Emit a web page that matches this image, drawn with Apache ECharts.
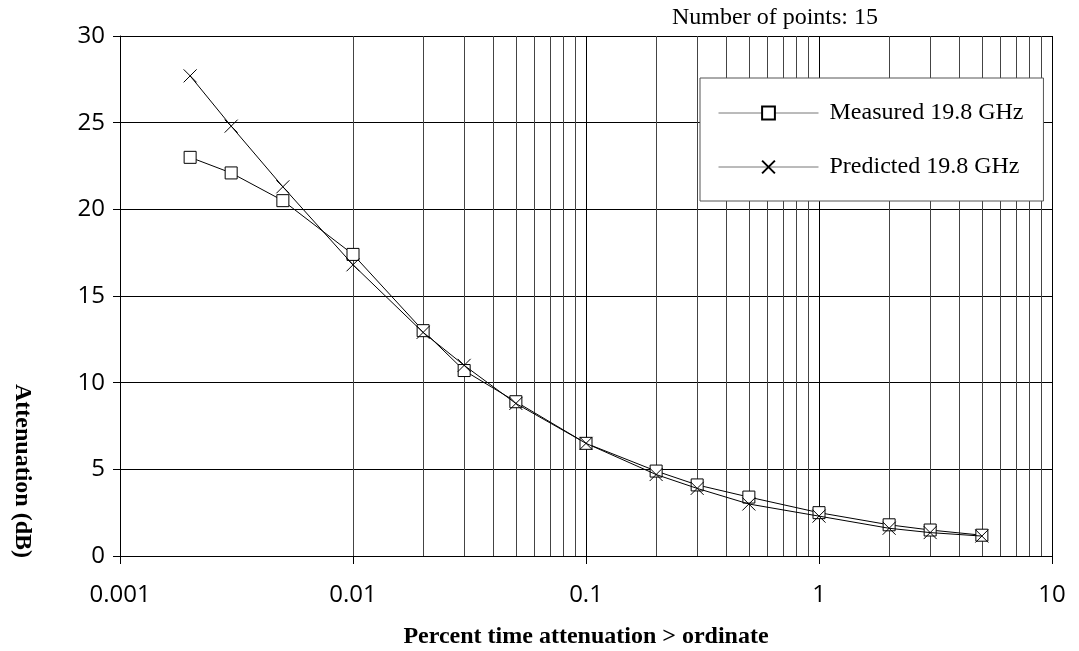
<!DOCTYPE html>
<html>
<head>
<meta charset="utf-8">
<script src="https://cdn.jsdelivr.net/npm/echarts@6/dist/echarts.min.js"></script>
<style>
  html, body { margin: 0; padding: 0; background: #fff; }
  #chart { width: 1079px; height: 651px; }
</style>
</head>
<body>
<div id="chart"></div>
<script>
// percent of time (x) and attenuation in dB (y)
const percentTime = [0.002, 0.003, 0.005, 0.01, 0.02, 0.03, 0.05, 0.1, 0.2, 0.3, 0.5, 1, 2, 3, 5];
const measured  = [23.0, 22.1, 20.5, 17.4, 13.0, 10.7, 8.9, 6.5, 4.9, 4.1, 3.4, 2.5, 1.8, 1.5, 1.2];
const predicted = [27.7, 24.8, 21.3, 16.8, 12.9, 11.0, 8.8, 6.5, 4.7, 3.9, 3.0, 2.3, 1.6, 1.35, 1.15];
const xTickLabels = ['0.001', '0.01', '0.1', '1', '10'];
const decades = [0.001, 0.01, 0.1, 1];

// minor log gridlines 2..9 in every decade
const minorLines = [];
decades.forEach(d => {
  for (let k = 2; k <= 9; k++) minorLines.push({ xAxis: +(d * k).toPrecision(3) });
});

const pairs = ys => percentTime.map((x, i) => [x, ys[i]]);

const chart = echarts.init(document.getElementById('chart'));

const option = {
  animation: false,
  title: {
    text: 'Number of points: 15',
    left: 672,
    top: 6,
    padding: 0,
    textStyle: { fontFamily: 'Liberation Serif', fontWeight: 'normal', fontSize: 24, color: '#000' }
  },
  grid: { left: 120, right: 27, top: 36, bottom: 95 },
  legend: {
    orient: 'vertical',
    left: 700,
    top: 78,
    padding: [23, 20, 22, 18],
    itemGap: 30,
    itemWidth: 100,
    itemHeight: 16,
    backgroundColor: '#fff',
    borderColor: '#555',
    borderWidth: 1,
    textStyle: { fontFamily: 'Liberation Serif', fontSize: 24, color: '#000', lineHeight: 24, padding: [0, 0, 0, 6] },
    lineStyle: { color: '#777', width: 1 },
    data: ['Measured 19.8 GHz', 'Predicted 19.8 GHz']
  },
  xAxis: {
    type: 'log',
    logBase: 10,
    min: 0.001,
    max: 10,
    axisLine: { lineStyle: { color: '#000', width: 1 } },
    axisTick: { show: true, length: 8, lineStyle: { color: '#000' } },
    axisLabel: {
      margin: 27,
      fontFamily: 'Open Sans',
      fontSize: 24,
      color: '#000',
      formatter: v => xTickLabels[Math.round(Math.log10(v)) + 3]
    },
    splitLine: { show: true, lineStyle: { color: '#000', width: 1 } }
  },
  yAxis: {
    type: 'value',
    min: 0,
    max: 30,
    interval: 5,
    axisLine: { show: true, lineStyle: { color: '#000', width: 1 } },
    axisTick: { show: true, length: 7, lineStyle: { color: '#000' } },
    axisLabel: { margin: 15, fontFamily: 'Open Sans', fontSize: 24, color: '#000' },
    splitLine: { show: true, lineStyle: { color: '#000', width: 1 } }
  },
  graphic: [
    {
      type: 'text',
      x: 22,
      y: 471,
      rotation: -Math.PI / 2,
      style: {
        text: 'Attenuation (dB)',
        font: 'bold 24px "Liberation Serif"',
        fill: '#000',
        align: 'center',
        verticalAlign: 'middle'
      }
    },
    {
      type: 'text',
      x: 586,
      y: 637,
      style: {
        text: 'Percent time attenuation > ordinate',
        font: 'bold 24px "Liberation Serif"',
        fill: '#000',
        align: 'center',
        verticalAlign: 'middle'
      }
    }
  ],
  series: [
    {
      name: 'Measured 19.8 GHz',
      type: 'line',
      data: pairs(measured),
      symbol: 'rect',
      symbolSize: 12,
      z: 3,
      lineStyle: { color: '#000', width: 1 },
      itemStyle: { color: '#fff', borderColor: '#000', borderWidth: 1 },
      markLine: {
        silent: true,
        symbol: 'none',
        label: { show: false },
        lineStyle: { color: '#444', width: 1, type: 'solid' },
        z: 1,
        data: minorLines
      }
    },
    {
      name: 'Predicted 19.8 GHz',
      type: 'line',
      data: pairs(predicted),
      symbol: 'path://M0,0L10,10M10,0L0,10',
      symbolSize: 13,
      z: 4,
      lineStyle: { color: '#000', width: 1 },
      itemStyle: { color: '#000', borderColor: '#000', borderWidth: 1 }
    }
  ]
};

chart.setOption(option);
</script>
</body>
</html>
